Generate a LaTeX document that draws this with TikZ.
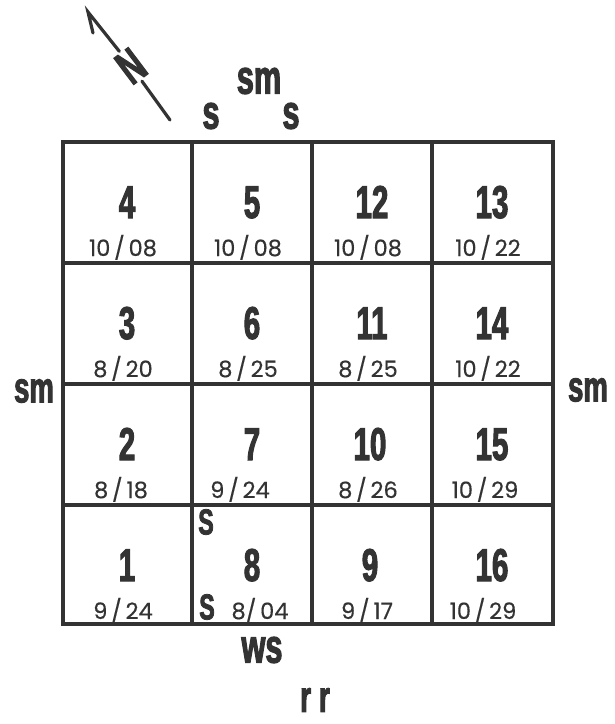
\documentclass[tikz,border=0pt]{standalone}
\usepackage{fontspec}
\usepackage{tikz}
\usetikzlibrary{calc}
\newfontfamily\condfont[FakeStretch=0.64, FakeBold=2.2]{Liberation Sans}
\newfontfamily\datefont[FakeBold=0.4]{Poppins}
\definecolor{mapink}{HTML}{333333}
\tikzset{
  gridln/.style={line width=3.5pt, draw=mapink, line cap=rect},
  plotno/.style={font=\condfont\bfseries\fontsize{46}{46}\selectfont, text=mapink, inner sep=0pt, anchor=base},
  datelb/.style={font=\datefont\fontsize{22.5}{22.5}\selectfont, text=mapink, inner sep=0pt, anchor=base},
  edgelb/.style={font=\condfont\bfseries\fontsize{48}{48}\selectfont, text=mapink, inner sep=0pt},
  sidelb/.style={edgelb, font=\condfont\bfseries\fontsize{43}{43}\selectfont},
  slb/.style={edgelb, font=\condfont\bfseries\fontsize{36}{36}\selectfont},
  northln/.style={line width=3.2pt, draw=mapink, line cap=round},
}

\begin{document}
\begin{tikzpicture}[x=1pt, y=-1pt]
    \useasboundingbox (0,0) rectangle (615,724);
    % plot grid
    \draw[gridln] (63,142) rectangle (553,624);
    \foreach \gx in {192,312,432} \draw[gridln] (\gx,142) -- (\gx,624);
    \foreach \gy in {263,384,505} \draw[gridln] (63,\gy) -- (553,\gy);
    % plot numbers and dates: number / centre x / row top / date / date shift
    \foreach \n/\cx/\ty/\d/\o in {
        4/127/142/{10\,/\,08}/-4, 5/252/142/{10\,/\,08}/-4, 12/372/142/{10\,/\,08}/-4, 13/492/142/{10\,/\,22}/-4,
        3/127/263/{8\,/\,20}/-4, 6/252/263/{8\,/\,25}/-4, 11/372/263/{8\,/\,25}/-4, 14/492/263/{10\,/\,22}/-4,
        2/127/384/{8\,/\,18}/-6, 7/252/384/{9\,/\,24}/-12, 10/370/384/{8\,/\,26}/-2, 15/492/384/{10\,/\,29}/-7,
        1/127/505/{9\,/\,24}/-4, 8/252/505/{8/\,04}/8, 9/370/505/{9\,/\,17}/-3, 16/492/505/{10\,/\,29}/-9} {
      \node[plotno] (n\n) at (\cx,\ty+76) {\n};
      \node[datelb] (d\n) at (\cx+\o,\ty+114) {\d};
    }
    \node[slb] (s8a) at (206,522) {S};
    \node[slb] (s8b) at (207,607) {S};
    % borders
    \node[edgelb] (top) at (259,81) {sm};
    \node[edgelb] (topl) at (211,116) {s};
    \node[edgelb] (topr) at (291,116) {s};
    \node[sidelb] (west) at (34,391) {sm};
    \node[sidelb] (east) at (588,390) {sm};
    \node[edgelb] (south) at (262,650) {ws};
    \node[edgelb, font=\condfont\bfseries\fontsize{44}{44}\selectfont] (road) at (315,700) {r r};
    % north arrow
    \coordinate (ntip) at (88,12);
    \coordinate (nbarb) at (93,33);
    \coordinate (ntail) at (170,120);
    \node[font=\condfont\bfseries\fontsize{48}{48}\selectfont, text=mapink, inner sep=2pt, rotate=37] (nlab) at (131,66) {N};
    \draw[northln] (nbarb) -- (ntip) -- (nlab);
    \draw[northln] (nlab) -- (ntail);
\end{tikzpicture}
\end{document}
